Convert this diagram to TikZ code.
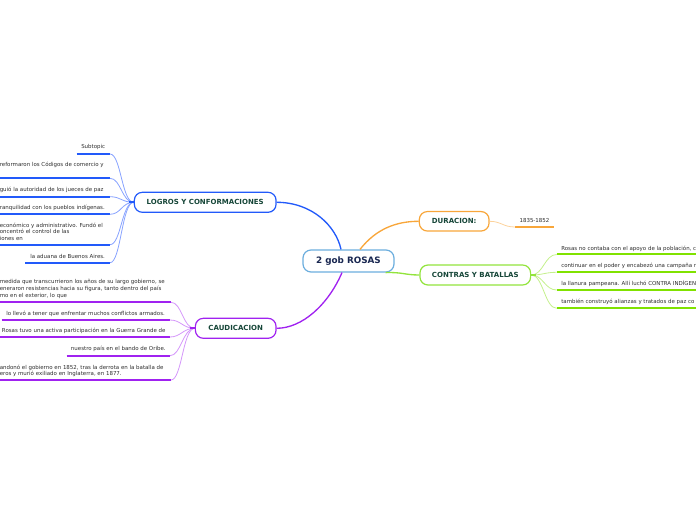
\documentclass[tikz,border=0pt]{standalone}
\usepackage{fontspec}
\setmainfont{DejaVu Sans}
\usetikzlibrary{calc}
\definecolor{cborder}{RGB}{108,174,222}
\definecolor{ctext}{RGB}{24,38,80}
\definecolor{maintext}{RGB}{22,70,56}
\definecolor{leaftext}{RGB}{45,45,45}
\definecolor{blueM}{RGB}{34,90,250}
\definecolor{blueL}{RGB}{135,162,255}
\definecolor{purpM}{RGB}{160,34,240}
\definecolor{purpL}{RGB}{212,150,250}
\definecolor{orM}{RGB}{248,166,58}
\definecolor{orL}{RGB}{252,210,155}
\definecolor{grM}{RGB}{146,228,60}
\definecolor{grU}{RGB}{128,226,0}
\definecolor{grL}{RGB}{196,240,140}
\begin{document}
\begin{tikzpicture}[x=0.75pt,y=-0.75pt,
  mainbox/.style={draw, fill=white, rounded corners=6pt, line width=0.9pt, inner sep=0pt,
    font=\fontsize{5.25}{6}\selectfont\bfseries, text=maintext},
  leaf/.style={anchor=base west, inner sep=0pt, font=\fontsize{4.1}{5}\selectfont, text=leaftext},
  uline/.style={line width=1.5pt},
  lconn/.style={line width=0.6pt},
  mconn/.style={line width=1pt}]
\useasboundingbox (0,0) rectangle (696,520);
\clip (0,0) rectangle (696,520);

% main nodes
\node[mainbox, draw=cborder, text=ctext, font=\fontsize{6.6}{8}\selectfont\bfseries,
  minimum width=68.25pt, minimum height=16.5pt] (c) at (348.5,261) {2 gob ROSAS};
\node[mainbox, draw=orM, minimum width=52.3pt, minimum height=14.6pt] (du) at (454.2,221.3) {DURACION:};
\node[mainbox, draw=grM, minimum width=83pt, minimum height=15pt] (ct) at (475.3,275) {CONTRAS Y BATALLAS};
\node[mainbox, draw=blueM, minimum width=106.3pt, minimum height=15pt] (lg) at (205.2,202.3) {LOGROS Y CONFORMACIONES};
\node[mainbox, draw=purpM, minimum width=60.5pt, minimum height=15pt] (cd) at (235.7,328.3) {CAUDICACION};

% main connectors
\draw[blueM, mconn] ($(c.north)+(-7.5,0)$) .. controls (336,226) and (312,202.3) .. (lg.east);
\draw[purpM, mconn] ($(c.south)+(-6.5,0)$) .. controls (328,305) and (302,328.3) .. (cd.east);
\draw[orM, mconn] ($(c.north)+(11.5,0)$) .. controls (376,229) and (396,221.3) .. (du.west);
\draw[grM, mconn] ($(c.south east)+(-9,0)$) .. controls (402,272) and (405,275) .. (ct.west);

% DURACION leaf
\coordinate (d1l) at (515,227); \coordinate (d1r) at (554,227);
\node[leaf] (d1) at (519.3,222.8) {1835-1852};
\draw[orM, uline] (d1l) -- (d1r);
\draw[orL, lconn] (du.east) .. controls (501,221.3) and (503,227) .. (d1l);

% CONTRAS leaves
\foreach \n/\y in {1/254.5, 2/272.3, 3/290, 4/308.3}{
  \coordinate (r\n l) at (556.7,\y); \coordinate (r\n r) at (700,\y);
}
\node[leaf] (r1) at (561,250.1) {Rosas no contaba con el apoyo de la población, c};
\node[leaf] (r2) at (561,268) {continuar en el poder y encabezó una campaña r};
\node[leaf] (r3) at (561,285.1) {la llanura pampeana. Allí luchó CONTRA INDÍGEN};
\node[leaf] (r4) at (561,303.5) {también construyó alianzas y tratados de paz co};
\foreach \n in {1,2,3,4}{
  \draw[grU, uline] (r\n l) -- (r\n r);
  \draw[grL, lconn] (ct.east) .. controls ($(ct.east)+(12,0)$) and ($(r\n l)+(-12,0)$) .. (r\n l);
}

% LOGROS leaves
\coordinate (g1l) at (76.7,154);  \coordinate (g1r) at (110,154);
\coordinate (g2l) at (0,178.3);   \coordinate (g2r) at (110,178.3);
\coordinate (g3l) at (0,196.7);   \coordinate (g3r) at (110,196.7);
\coordinate (g4l) at (0,214.3);   \coordinate (g4r) at (110,214.3);
\coordinate (g5l) at (0,244.7);   \coordinate (g5r) at (110,244.7);
\coordinate (g6l) at (25,262.7);  \coordinate (g6r) at (110,262.7);
\node[leaf] (g1) at (81,148.8) {Subtopic};
\node[leaf] (g2) at (-0.5,166.8) {reformaron los Códigos de comercio y};
\node[leaf] (g3) at (-0.5,191.8) {guió la autoridad de los jueces de paz};
\node[leaf] (g4) at (-0.5,209.5) {ranquilidad con los pueblos indígenas.};
\node[leaf] (g5a) at (-0.5,227.1) {económico y administrativo. Fundó el};
\node[leaf] (g5b) at (-0.5,233.9) {oncentró el control de las};
\node[leaf] (g5c) at (-0.5,240.4) {iones en};
\node[leaf] (g6) at (30,259) {la aduana de Buenos Aires.};
\foreach \n in {1,...,6}{
  \draw[blueM, uline] (g\n l) -- (g\n r);
  \draw[blueL, lconn] (lg.west) .. controls ($(lg.west)+(-12,0)$) and ($(g\n r)+(11,0)$) .. (g\n r);
}
\draw[blueM, line width=1.3pt] ($(lg.west)+(-5,0)$) -- (lg.west);

% CAUDICACION leaves
\coordinate (k1l) at (0,302.3);   \coordinate (k1r) at (171,302.3);
\coordinate (k2l) at (1.7,320);   \coordinate (k2r) at (170,320);
\coordinate (k3l) at (0,337);     \coordinate (k3r) at (170,337);
\coordinate (k4l) at (66.7,355.7);\coordinate (k4r) at (170,355.7);
\coordinate (k5l) at (0,380);     \coordinate (k5r) at (171,380);
\node[leaf] (k1a) at (-0.5,284) {medida que transcurrieron los años de su largo gobierno, se};
\node[leaf] (k1b) at (-0.5,290.8) {eneraron resistencias hacia su figura, tanto dentro del país};
\node[leaf] (k1c) at (-0.5,297.3) {mo en el exterior, lo que};
\node[leaf] (k2) at (6,315.1) {lo llevó a tener que enfrentar muchos conflictos armados.};
\node[leaf] (k3) at (1.7,332.6) {Rosas tuvo una activa participación en la Guerra Grande de};
\node[leaf] (k4) at (70.7,350.8) {nuestro país en el bando de Oribe.};
\node[leaf] (k5a) at (-0.5,369) {andonó el gobierno en 1852, tras la derrota en la batalla de};
\node[leaf] (k5b) at (-0.5,375.8) {eros y murió exiliado en Inglaterra, en 1877.};
\foreach \n in {1,...,5}{
  \draw[purpM, uline] (k\n l) -- (k\n r);
  \draw[purpL, lconn] (cd.west) .. controls ($(cd.west)+(-12,0)$) and ($(k\n r)+(11,0)$) .. (k\n r);
}
\draw[purpM, line width=1.3pt] ($(cd.west)+(-5,0)$) -- (cd.west);
\draw[grM, line width=1.3pt] (ct.east) -- ($(ct.east)+(5,0)$);
\end{tikzpicture}
\end{document}
